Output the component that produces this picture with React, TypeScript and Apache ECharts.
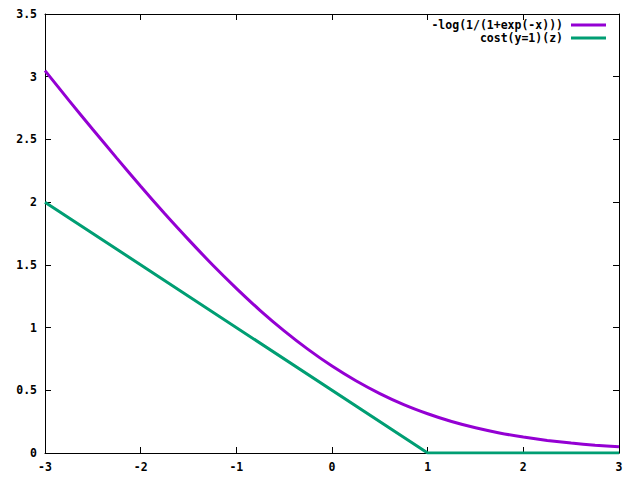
import React, { useEffect, useRef } from "react";
import * as echarts from "echarts";

const xValues = [-3, -2.75, -2.5, -2.25, -2, -1.75, -1.5, -1.25, -1, -0.75, -0.5, -0.25, 0, 0.25, 0.5, 0.75, 1, 1.25, 1.5, 1.75, 2, 2.25, 2.5, 2.75, 3];
const logisticCost = [3.049, 2.811, 2.579, 2.351, 2.127, 1.909, 1.701, 1.501, 1.313, 1.136, 0.974, 0.826, 0.693, 0.576, 0.474, 0.386, 0.313, 0.251, 0.201, 0.160, 0.127, 0.100, 0.079, 0.062, 0.049];
const hingeX = [-3, 1, 3];
const hingeCost = [2, 0, 0];
const seriesNames = ["-log(1/(1+exp(-x)))", "cost(y=1)(z)"];
const colors = ["#9400d3", "#009e73"];

const FONT = "DejaVu Sans Mono";

export default function App() {
  const ref = useRef<HTMLDivElement>(null);
  useEffect(() => {
    if (!ref.current) return;
    const chart = echarts.init(ref.current, null, { renderer: "svg" });
    const label = { fontFamily: FONT, fontWeight: "bold" as const, fontSize: 11.5, color: "#000" };
    const axisCommon = {
      type: "value" as const,
      axisLine: { show: true, onZero: false, lineStyle: { color: "#000", width: 1 } },
      axisTick: { show: true, inside: true, length: 6, lineStyle: { color: "#000" } },
      splitLine: { show: false },
    };
    chart.setOption({
      animation: false,
      backgroundColor: "#fff",
      grid: { left: 45, top: 14, width: 574, height: 439, containLabel: false },
      xAxis: [
        { ...axisCommon, position: "bottom", min: -3, max: 3, interval: 1, axisLabel: { ...label, margin: 8 } },
        { ...axisCommon, position: "top", min: -3, max: 3, interval: 1, axisLabel: { show: false } },
      ],
      yAxis: [
        { ...axisCommon, position: "left", min: 0, max: 3.5, interval: 0.5, axisLabel: { ...label, margin: 8 } },
        { ...axisCommon, position: "right", min: 0, max: 3.5, interval: 0.5, axisLabel: { show: false } },
      ],
      series: [
        {
          name: seriesNames[0],
          type: "line",
          data: xValues.map((x, i) => [x, logisticCost[i]]),
          showSymbol: false,
          smooth: 0.2,
          lineStyle: { color: colors[0], width: 3 },
          itemStyle: { color: colors[0] },
        },
        {
          name: seriesNames[1],
          type: "line",
          data: hingeX.map((x, i) => [x, hingeCost[i]]),
          showSymbol: false,
          lineStyle: { color: colors[1], width: 3 },
          itemStyle: { color: colors[1] },
        },
      ],
      graphic: [
        { type: "text", x: 563, y: 25, style: { text: seriesNames[0], ...label, fill: "#000", align: "right", verticalAlign: "middle" } },
        { type: "line", shape: { x1: 571, y1: 25, x2: 606, y2: 25 }, style: { stroke: colors[0], lineWidth: 3 } },
        { type: "text", x: 563, y: 38, style: { text: seriesNames[1], ...label, fill: "#000", align: "right", verticalAlign: "middle" } },
        { type: "line", shape: { x1: 571, y1: 38, x2: 606, y2: 38 }, style: { stroke: colors[1], lineWidth: 3 } },
      ],
    });
    return () => chart.dispose();
  }, []);
  return <div ref={ref} style={{ width: 640, height: 480, position: "absolute", left: 0, top: 0 }} />;
}
